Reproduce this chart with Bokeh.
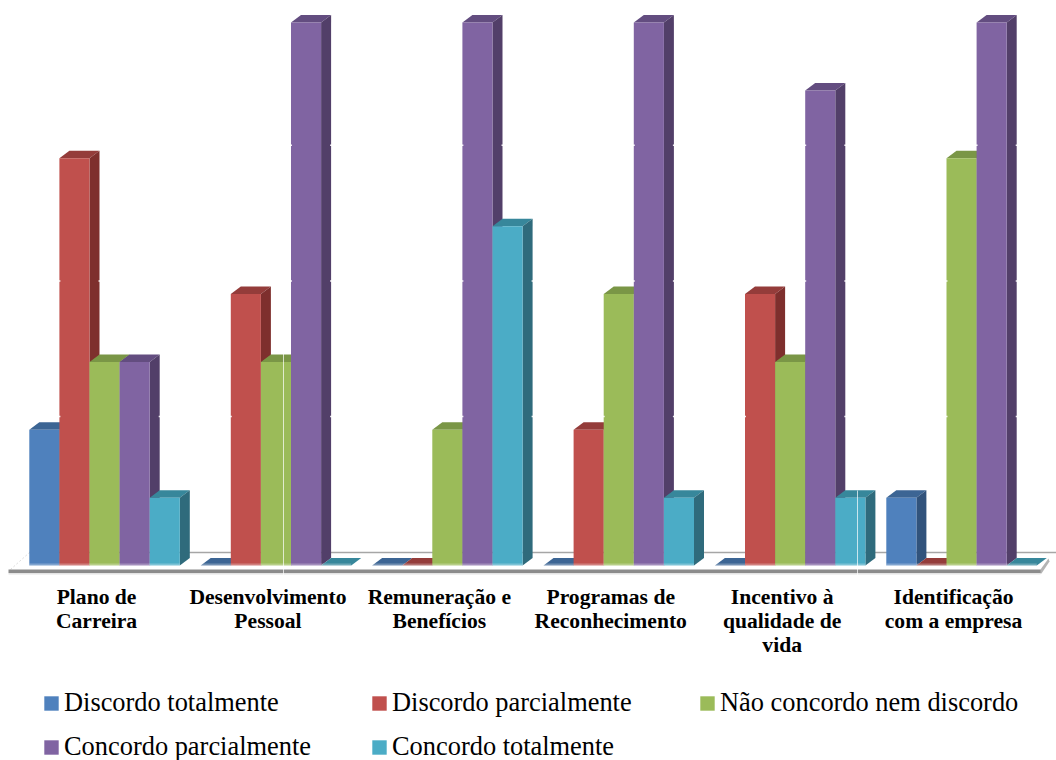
from bokeh.core.properties import value
from bokeh.embed import file_html
from bokeh.models import Legend, LegendItem, Range1d
from bokeh.plotting import figure
from bokeh.resources import INLINE

categories = [
    "Plano de\nCarreira",
    "Desenvolvimento\nPessoal",
    "Remuneração e\nBenefícios",
    "Programas de\nReconhecimento",
    "Incentivo à\nqualidade de\nvida",
    "Identificação\ncom a empresa",
]
discordo_totalmente = [2, 0, 0, 0, 0, 1]
discordo_parcialmente = [6, 4, 0, 2, 4, 0]
nem_nem = [3, 3, 2, 4, 3, 6]
concordo_parcialmente = [3, 8, 8, 8, 7, 8]
concordo_totalmente = [1, 0, 5, 1, 1, 0]

series = [
    ("Discordo totalmente", discordo_totalmente, "#4F81BD", "#3C6594", "#31537C"),
    ("Discordo parcialmente", discordo_parcialmente, "#C0504D", "#943C3A", "#7E2F2D"),
    ("Não concordo nem discordo", nem_nem, "#9BBB59", "#7A9646", "#66803A"),
    ("Concordo parcialmente", concordo_parcialmente, "#8064A2", "#634D80", "#523F69"),
    ("Concordo totalmente", concordo_totalmente, "#4BACC6", "#37879B", "#2F6B7C"),
]

W, H = 1056, 760
GROUP_PX = 171.4      # distance between clusters
UNIT_PX = 67.875      # pixels per answer count
LEFT_PX = 28.8        # left edge of the first cluster
BASE_PX = 565         # baseline, measured from the top of the page
BAR = 30.1 / GROUP_PX # bar width in cluster units
DX = 10 / GROUP_PX    # oblique depth of the 3D boxes
DY = 7.5 / UNIT_PX


def gx(px):
    return (px - LEFT_PX) / GROUP_PX


def gy(px):
    return (BASE_PX - px) / UNIT_PX


p = figure(
    width=W,
    height=H,
    x_range=Range1d(gx(0), gx(W)),
    y_range=Range1d(gy(H), gy(0)),
    x_axis_location=None,
    y_axis_location=None,
    toolbar_location=None,
    output_backend="svg",
    min_border=0,
    outline_line_color=None,
    background_fill_color="white",
)
p.grid.visible = False

# Floor: back edge, left perspective edge, right slab and front band
p.line([gx(29), gx(1056)], [gy(552), gy(552)], line_color="#A6A6A6", line_width=1.5)
p.line([gx(10), gx(29)], [gy(569), gy(552)], line_color="#DDDDDD", line_width=1, line_dash="2 2")
p.patch(
    [gx(1037), gx(1048), gx(1049), gx(1041)],
    [gy(573), gy(558), gy(561), gy(573)],
    fill_color="#B4B4B4",
    line_color=None,
)
p.quad(left=gx(8), right=gx(1040), top=gy(569), bottom=gy(572.5), fill_color="#8C8C8C", line_color=None)
p.quad(left=gx(8), right=gx(1040), top=gy(572.5), bottom=gy(574), fill_color="#E4E4E4", line_color=None)

# Boxes, painted left to right so that taller neighbours hide the side faces
legend_items = []
for j, (name, values, front, top, side) in enumerate(series):
    lefts = [i + j * BAR for i in range(len(values))]
    rights = [x + BAR for x in lefts]
    p.patches(
        [[x, x + DX, x + BAR + DX, x + BAR] for x in lefts],
        [[v, v + DY, v + DY, v] for v in values],
        fill_color=top,
        line_color=None,
    )
    p.patches(
        [[x, x + DX, x + DX, x] for x in rights],
        [[0, DY, v + DY, v] for v in values],
        fill_color=side,
        line_color=None,
    )
    bars = p.quad(
        left=lefts,
        right=rights,
        bottom=[0] * len(values),
        top=values,
        fill_color=front,
        line_color=None,
    )
    legend_items.append(LegendItem(label=value(name), renderers=[bars]))

# Pale reflection along the foot of each cluster
starts = list(range(len(categories)))
p.quad(
    left=starts,
    right=[s + 5 * BAR for s in starts],
    bottom=gy(566),
    top=gy(563),
    fill_color="white",
    fill_alpha=0.28,
    line_color=None,
)

# Gridline notches left visible at the cluster edges
grid_levels = [gy(416), gy(280.5), gy(144.7)]
xs, ys = [], []
for i in range(len(categories)):
    heights = [s[1][i] for s in series]
    for level in grid_levels:
        tall = [j for j, h in enumerate(heights) if h > level]
        if tall:
            a = i + tall[0] * BAR
            b = i + (tall[-1] + 1) * BAR + DX
            xs += [[a - 1.5 / GROUP_PX, a + 1 / GROUP_PX], [b - 1 / GROUP_PX, b + 1.5 / GROUP_PX]]
            ys += [[level, level], [level, level]]
p.multi_line(xs, ys, line_color="white", line_width=1.5, line_alpha=0.9)

# Thin seams crossing the second and fifth clusters
p.segment(
    x0=[gx(283), gx(857)],
    y0=[gy(575), gy(575)],
    x1=[gx(283), gx(857)],
    y1=[gy(353), gy(490)],
    line_color="white",
    line_width=1,
    line_alpha=0.7,
)

# Category names under each cluster
p.text(
    x=[i + 2.5 * BAR - 8 / GROUP_PX for i in range(len(categories))],
    y=[gy(584.5)] * len(categories),
    text=categories,
    text_font=value("Liberation Serif"),
    text_font_style="bold",
    text_font_size="21.6px",
    text_color="black",
    text_align="center",
    text_baseline="top",
    text_line_height=1.0,
)

legend = Legend(
    items=legend_items,
    ncols=3,
    location=(42, -2),
    orientation="horizontal",
    glyph_width=18,
    glyph_height=18,
    label_standoff=4,
    label_width=293,
    label_height=26,
    spacing=13,
    margin=0,
    padding=0,
    border_line_color=None,
    background_fill_alpha=0,
    label_text_font="Liberation Serif",
    label_text_font_size="26.4px",
    label_text_color="black",
)
p.add_layout(legend, "center")

open("out.html", "w").write(file_html(p, INLINE))
